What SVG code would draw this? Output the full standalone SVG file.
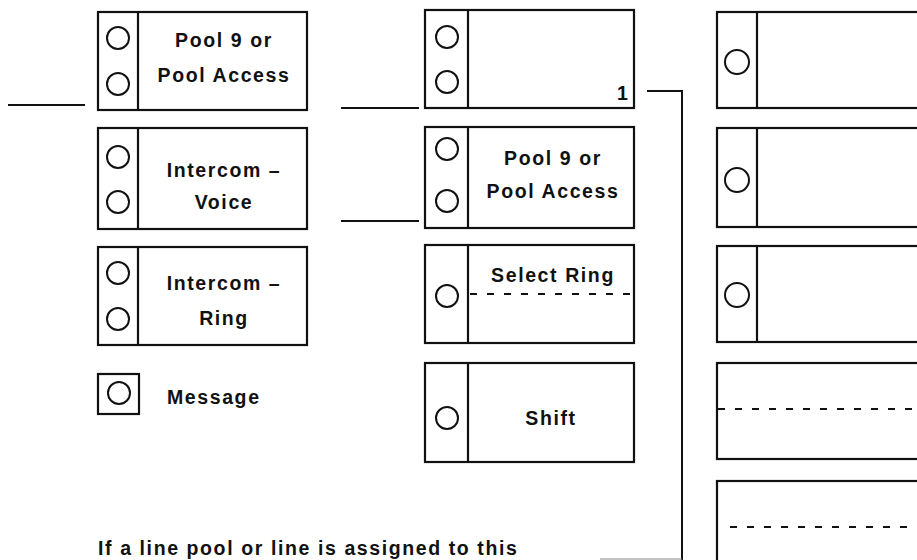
<svg xmlns="http://www.w3.org/2000/svg" width="917" height="560" viewBox="0 0 917 560">
<style>
.b{fill:none;stroke:#111;stroke-width:2.2}
.c{fill:none;stroke:#111;stroke-width:2}
.d{fill:none;stroke:#111;stroke-width:2;stroke-dasharray:7 10}
.w{fill:none;stroke:#111;stroke-width:2}
text{font-family:"Liberation Sans",Arial,Helvetica,sans-serif;font-weight:bold;font-size:19.5px;letter-spacing:1.6px;fill:#111}
.m{text-anchor:middle}
</style>
<rect width="917" height="560" fill="#fff"/>
<g id="connectors">
<line class="w" x1="8" y1="105" x2="85" y2="105"/>
<line class="w" x1="341" y1="108" x2="419" y2="108"/>
<line class="w" x1="341" y1="221" x2="419" y2="221"/>
<polyline class="w" points="647,91 682,91 682,560"/>
<line x1="600" y1="559" x2="682" y2="559" stroke="#888" stroke-width="1"/>
</g>
<g id="left-pool">
<rect class="b" x="98" y="12" width="209" height="98"/>
<line class="b" x1="138" y1="12" x2="138" y2="110"/>
<circle class="c" cx="118" cy="38" r="11"/>
<circle class="c" cx="118" cy="84" r="11"/>
<text class="m" x="224" y="47">Pool 9 or</text>
<text class="m" x="224" y="82">Pool Access</text>
</g>
<g id="left-intercom-voice">
<rect class="b" x="98" y="128" width="209" height="101"/>
<line class="b" x1="138" y1="128" x2="138" y2="229"/>
<circle class="c" cx="118" cy="157" r="11"/>
<circle class="c" cx="118" cy="202" r="11"/>
<text class="m" x="224" y="177">Intercom –</text>
<text class="m" x="224" y="209">Voice</text>
</g>
<g id="left-intercom-ring">
<rect class="b" x="98" y="247" width="209" height="98"/>
<line class="b" x1="138" y1="247" x2="138" y2="345"/>
<circle class="c" cx="118" cy="273" r="11"/>
<circle class="c" cx="118" cy="319" r="11"/>
<text class="m" x="224" y="290">Intercom –</text>
<text class="m" x="224" y="325">Ring</text>
</g>
<g id="left-message">
<rect class="b" x="98" y="374" width="41" height="40"/>
<circle class="c" cx="119" cy="393" r="11"/>
<text x="167" y="404">Message</text>
</g>
<g id="mid-line1">
<rect class="b" x="425" y="10" width="209" height="98"/>
<line class="b" x1="468" y1="10" x2="468" y2="108"/>
<circle class="c" cx="447" cy="37" r="11"/>
<circle class="c" cx="447" cy="82" r="11"/>
<text x="617" y="100">1</text>
</g>
<g id="mid-pool">
<rect class="b" x="425" y="127" width="209" height="101"/>
<line class="b" x1="468" y1="127" x2="468" y2="228"/>
<circle class="c" cx="447" cy="149" r="11"/>
<circle class="c" cx="447" cy="201" r="11"/>
<text class="m" x="553" y="165">Pool 9 or</text>
<text class="m" x="553" y="198">Pool Access</text>
</g>
<g id="mid-select-ring">
<rect class="b" x="425" y="245" width="209" height="98"/>
<line class="b" x1="468" y1="245" x2="468" y2="343"/>
<circle class="c" cx="447" cy="296" r="11"/>
<line class="d" x1="470" y1="294" x2="632" y2="294"/>
<text class="m" x="553" y="282">Select Ring</text>
</g>
<g id="mid-shift">
<rect class="b" x="425" y="363" width="209" height="99"/>
<line class="b" x1="468" y1="363" x2="468" y2="462"/>
<circle class="c" cx="447" cy="418" r="11"/>
<text class="m" x="551" y="425">Shift</text>
</g>
<g id="right-1">
<rect class="b" x="717" y="12" width="240" height="96"/>
<line class="b" x1="757" y1="12" x2="757" y2="108"/>
<circle class="c" cx="737" cy="62" r="12"/>
</g>
<g id="right-2">
<rect class="b" x="717" y="128" width="240" height="99"/>
<line class="b" x1="757" y1="128" x2="757" y2="227"/>
<circle class="c" cx="737" cy="180" r="12"/>
</g>
<g id="right-3">
<rect class="b" x="717" y="246" width="240" height="96"/>
<line class="b" x1="757" y1="246" x2="757" y2="342"/>
<circle class="c" cx="737" cy="295" r="12"/>
</g>
<g id="right-4">
<rect class="b" x="717" y="363" width="240" height="96"/>
<line class="d" x1="718" y1="409" x2="917" y2="409"/>
</g>
<g id="right-5">
<rect class="b" x="717" y="481" width="240" height="120"/>
<line class="d" x1="730" y1="527" x2="917" y2="527"/>
</g>
<g id="caption">
<text x="98" y="555">If a line pool or line is assigned to this</text>
</g>
</svg>
